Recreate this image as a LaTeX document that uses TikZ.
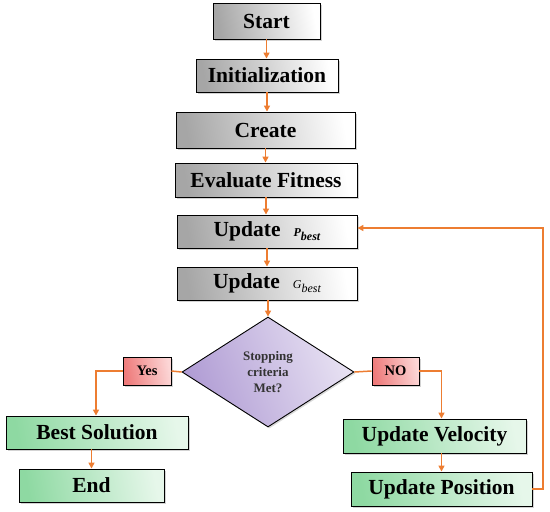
\documentclass[tikz,border=0pt]{standalone}
\usepackage{fontspec}
\setmainfont{Liberation Serif}
\usetikzlibrary{shapes.geometric,arrows.meta,shadows,calc}
\definecolor{arr}{HTML}{ED7D31}
\definecolor{dial}{HTML}{B09CD4}
\definecolor{diar}{HTML}{E8E2F3}
\definecolor{grl}{HTML}{8ED9A2}
\definecolor{grr}{HTML}{E6F7EA}
\definecolor{rdl}{HTML}{EE7A7A}
\definecolor{rdr}{HTML}{FCD6D6}
\definecolor{gyl}{HTML}{A6A6A6}
\begin{document}
\begin{tikzpicture}[x=1pt,y=-1pt,
  base/.style={draw=black,line width=0.9pt,font=\fontsize{21.5}{22}\selectfont\bfseries,inner sep=0pt,
    drop shadow={shadow xshift=1.5pt,shadow yshift=-1.5pt,opacity=0.35}},
  graybox/.style={base,left color=gyl,right color=white,shading angle=100},
  greenbox/.style={base,left color=grl,right color=grr,shading angle=100},
  redbox/.style={base,font=\fontsize{14.5}{15}\selectfont\bfseries,left color=rdl,right color=rdr,shading angle=100},
  dia/.style={diamond,draw=black,line width=0.9pt,inner sep=0pt,minimum width=172pt,minimum height=110pt,
    left color=dial,right color=diar,shading angle=110,align=center,
    font=\fontsize{13}{16}\selectfont\bfseries,text=black!80,
    drop shadow={shadow xshift=1.5pt,shadow yshift=-1.5pt,opacity=0.3}},
  con/.style={draw=arr,line width=1.5pt},
  arrow/.style={con,-{Triangle[length=6pt,width=6pt]}}]
\useasboundingbox (0,0) rectangle (550,512);
\newcommand{\mysub}[3]{{\fontsize{12}{12}\selectfont\itshape#3 #1\raisebox{-3.5pt}{#2}}}
\node[graybox,minimum width=107pt,minimum height=36pt] (start) at (266.5,21) {Start};
\node[graybox,minimum width=142pt,minimum height=33pt] (init) at (267,75.5) {Initialization};
\node[graybox,minimum width=179pt,minimum height=36pt] (create) at (265.5,130) {Create};
\node[graybox,minimum width=182pt,minimum height=34pt] (eval) at (266,180) {Evaluate Fitness};
\node[graybox,minimum width=180pt,minimum height=33pt] (pbest) at (267,231.5) {Update\hspace{10pt}\mysub{P}{best}{\bfseries}};
\node[graybox,minimum width=180pt,minimum height=33pt] (gbest) at (267,283.5) {Update\hspace{10pt}\mysub{G}{best}{\mdseries}};
\node[dia] (stop) at (268,372) {Stopping\\criteria\\Met?};
\node[redbox,minimum width=48pt,minimum height=28pt] (yes) at (147,371) {Yes};
\node[redbox,minimum width=47pt,minimum height=28pt] (no) at (395.5,371) {NO};
\node[greenbox,minimum width=182pt,minimum height=33pt] (best) at (97,432.5) {Best Solution};
\node[greenbox,minimum width=145pt,minimum height=33pt] (end) at (91.5,485.5) {End};
\node[greenbox,minimum width=183pt,minimum height=34pt] (vel) at (434.5,436) {Update Velocity};
\node[greenbox,minimum width=181pt,minimum height=34pt] (pos) at (441.5,489) {Update Position};
\coordinate (fb) at (543,228);
\draw[arrow] (start.south) -- (start.south |- init.north);
\draw[arrow] (init.south) -- (init.south |- create.north);
\draw[arrow] (create.south) -- (create.south |- eval.north);
\draw[arrow] (eval.south) -- (eval.south |- pbest.north);
\draw[arrow] (pbest.south) -- (pbest.south |- gbest.north);
\draw[arrow] (gbest.south -| stop.north) -- (stop.north);
\draw[con] (stop.west) -- (yes.east);
\draw[con] (stop.east) -- (no.west);
\draw[arrow] (yes.west) -| ([xshift=-1pt]best.north);
\draw[arrow] (no.east) -| (pos.north |- vel.north);
\draw[arrow] (pos.north |- vel.south) -- (pos.north);
\draw[arrow] (end.north |- best.south) -- (end.north);
\draw[arrow] (pos.east) -| (fb) -- (fb -| pbest.east);
\end{tikzpicture}
\end{document}
